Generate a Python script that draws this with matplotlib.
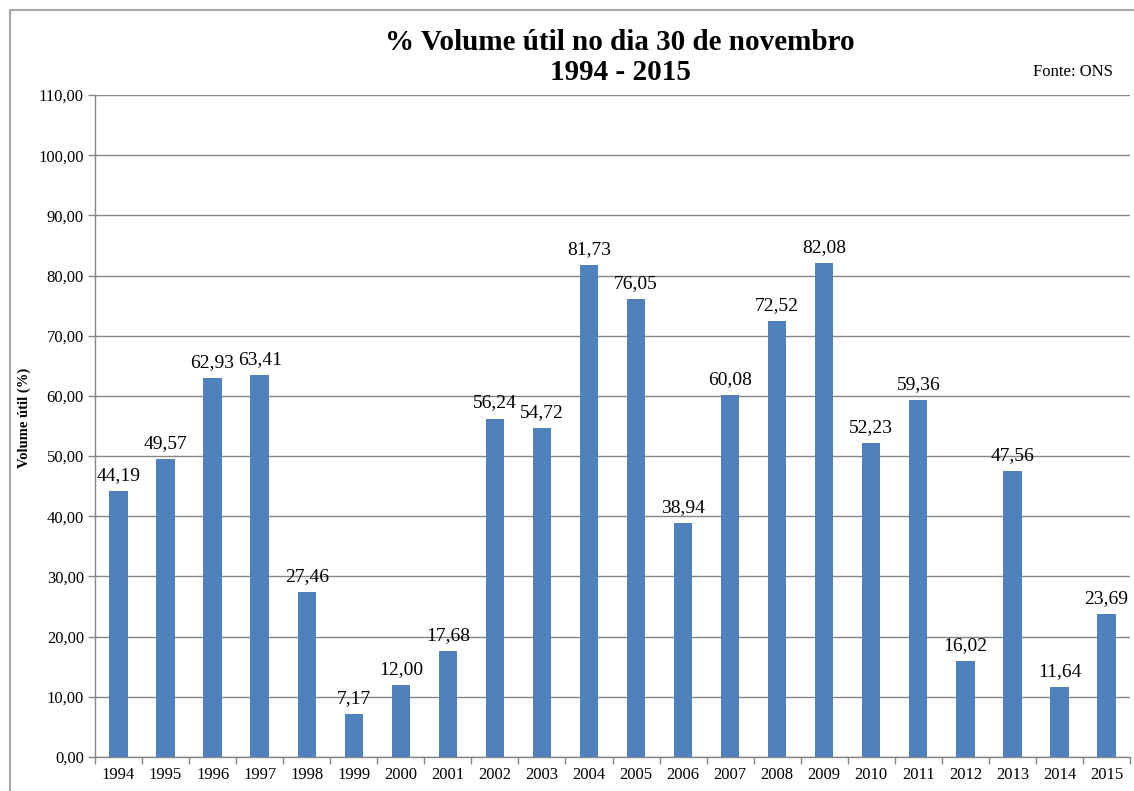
import matplotlib
matplotlib.use("Agg")
import matplotlib.pyplot as plt
from matplotlib.patches import Rectangle

years = ["1994", "1995", "1996", "1997", "1998", "1999", "2000", "2001", "2002", "2003", "2004",
         "2005", "2006", "2007", "2008", "2009", "2010", "2011", "2012", "2013", "2014", "2015"]
values = [44.19, 49.57, 62.93, 63.41, 27.46, 7.17, 12.00, 17.68, 56.24, 54.72, 81.73,
          76.05, 38.94, 60.08, 72.52, 82.08, 52.23, 59.36, 16.02, 47.56, 11.64, 23.69]
yticks = [0, 10, 20, 30, 40, 50, 60, 70, 80, 90, 100, 110]

plt.rcParams['font.family'] = ['Liberation Serif', 'DejaVu Serif']

W, H = 1134, 791
fig = plt.figure(figsize=(W / 100, H / 100), dpi=100)

# outer chart border (clipped at right and bottom)
fig.patches.append(Rectangle((10 / W, -0.05), 1.2, (H - 10) / H + 0.05, transform=fig.transFigure,
                             fill=False, edgecolor='#A6A6A6', linewidth=1.5))

ax = fig.add_axes([95 / W, (H - 757) / H, (1130 - 95) / W, (757 - 95) / H])
grid_c = '#868686'
x = list(range(len(years)))
ax.bar(x, values, width=0.39, color='#4F81BD', zorder=3)
ax.set_xlim(-0.5, len(years) - 0.5)
ax.set_ylim(0, 110)
ax.set_yticks(yticks)
ax.set_yticklabels([f"{v:.2f}".replace('.', ',') for v in yticks], fontsize=12)
ax.yaxis.grid(True, color=grid_c, linewidth=1, zorder=0)
ax.set_xticks(x)
ax.set_xticklabels(years, fontsize=12)
ax.tick_params(axis='x', length=0, pad=7)
ax.set_xticks([i - 0.5 for i in range(len(years) + 1)], minor=True)
ax.tick_params(axis='x', which='minor', length=5, color=grid_c, width=1)
ax.tick_params(axis='y', length=5, color=grid_c, width=1, pad=3)
for s in ['top', 'right']:
    ax.spines[s].set_visible(False)
for s in ['left', 'bottom']:
    ax.spines[s].set_color(grid_c)
    ax.spines[s].set_linewidth(1)

for xi, v in zip(x, values):
    ax.annotate(f"{v:.2f}".replace('.', ','), (xi, v), xytext=(0, 5), textcoords='offset points',
                ha='center', va='bottom', fontsize=14)

ax.set_ylabel("Volume útil (%)", fontsize=10.5, fontweight='bold')
ax.yaxis.set_label_coords(-0.0619, 0.512)

fig.text(620 / W, 1 - 42 / H, "% Volume útil no dia 30 de novembro", ha='center', va='center',
         fontsize=21, fontweight='bold')
fig.text(620 / W, 1 - 72 / H, "1994 - 2015", ha='center', va='center',
         fontsize=21, fontweight='bold')
fig.text(1113 / W, 1 - 72 / H, "Fonte: ONS", ha='right', va='center', fontsize=12)

fig.savefig("out.png", dpi=100)
